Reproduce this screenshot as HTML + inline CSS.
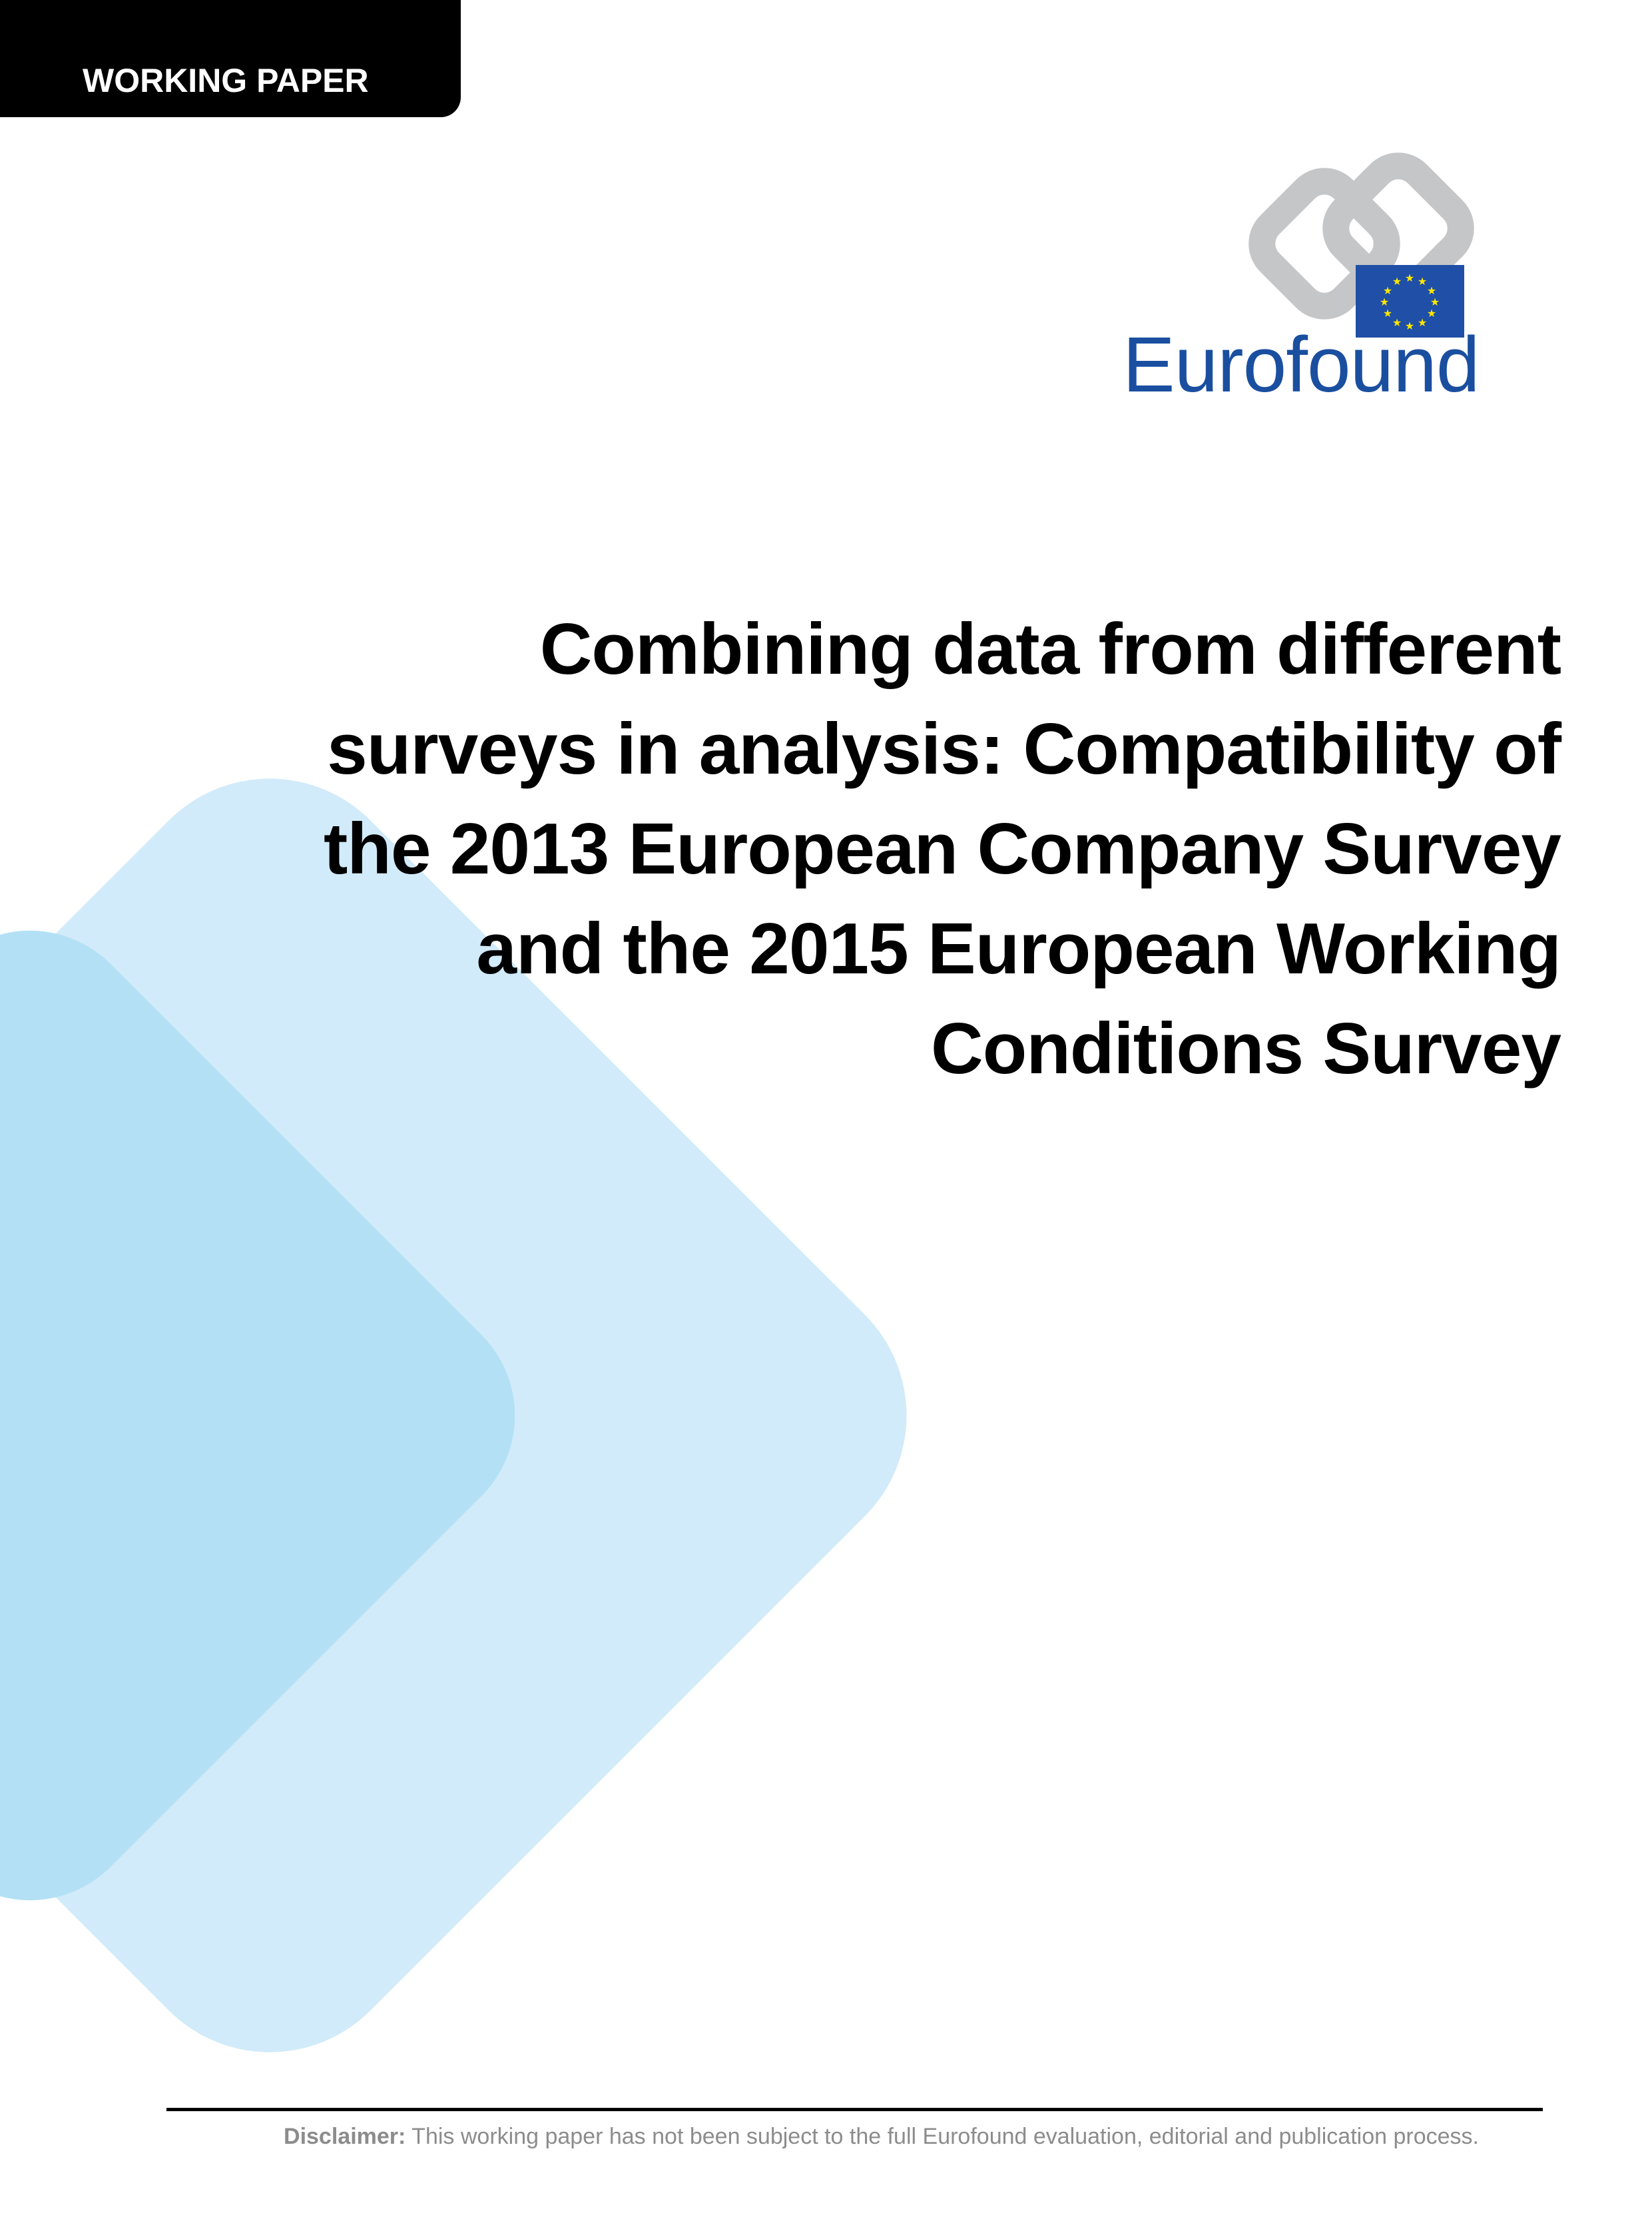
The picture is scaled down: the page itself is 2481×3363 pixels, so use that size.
<!DOCTYPE html>
<html><head><meta charset="utf-8">
<style>
html,body{margin:0;padding:0;}
body{width:2481px;height:3363px;position:relative;overflow:hidden;background:#fff;font-family:"Liberation Sans",sans-serif;}
.tab{position:absolute;left:0;top:0;width:692px;height:176px;background:#000;border-bottom-right-radius:30px;}
.tab span{position:absolute;left:124px;top:92px;color:#fff;font-weight:bold;font-size:50px;}
.title{position:absolute;right:137px;top:900px;width:2200px;text-align:right;font-weight:bold;font-size:109px;line-height:150px;color:#000;letter-spacing:-1px;}
.rule{position:absolute;left:250px;top:3166px;width:2067px;height:5px;background:#000;}
.disc{position:absolute;left:290px;width:2067px;top:3190px;text-align:center;font-size:34px;color:#8c8c8c;}
.brand{position:absolute;left:1686px;top:480px;font-size:118px;color:#1a4fa0;letter-spacing:-1px;}
</style></head>
<body>
<svg width="2481" height="3363" style="position:absolute;left:0;top:0">
  <rect x="-334" y="1387" width="1478" height="1478" rx="214" fill="#d1ebfa" transform="rotate(45 405 2126)"/>
  <rect x="-520" y="1561" width="1130" height="1130" rx="171" fill="#b3e0f5" transform="rotate(45 45 2126)"/>
</svg>
<div class="tab"><span>WORKING PAPER</span></div>
<svg width="2481" height="700" style="position:absolute;left:0;top:0">
  <rect x="1911" y="288" width="156" height="156" rx="40" fill="none" stroke="#c5c6c8" stroke-width="40" transform="rotate(45 1989 366)"/>
  <rect x="2022" y="265" width="156" height="156" rx="40" fill="none" stroke="#c5c6c8" stroke-width="40" transform="rotate(45 2100 343)"/>
  <rect x="2036" y="398" width="163" height="109" fill="#1f4fa6"/>
  <g fill="#ffe600" font-size="16" text-anchor="middle" font-family="DejaVu Sans">
    <text x="2117" y="423">★</text><text x="2136" y="428">★</text><text x="2150" y="442">★</text><text x="2155" y="459">★</text><text x="2150" y="476">★</text><text x="2136" y="490">★</text><text x="2117" y="495">★</text><text x="2098" y="490">★</text><text x="2084" y="476">★</text><text x="2079" y="459">★</text><text x="2084" y="442">★</text><text x="2098" y="428">★</text>
  </g>
</svg>
<div class="brand">Eurofound</div>
<div class="title">Combining data from different<br>surveys in analysis: Compatibility of<br>the 2013 European Company Survey<br>and the 2015 European Working<br>Conditions Survey</div>
<div class="rule"></div>
<div class="disc"><b>Disclaimer:</b> This working paper has not been subject to the full Eurofound evaluation, editorial and publication process.</div>
</body></html>
